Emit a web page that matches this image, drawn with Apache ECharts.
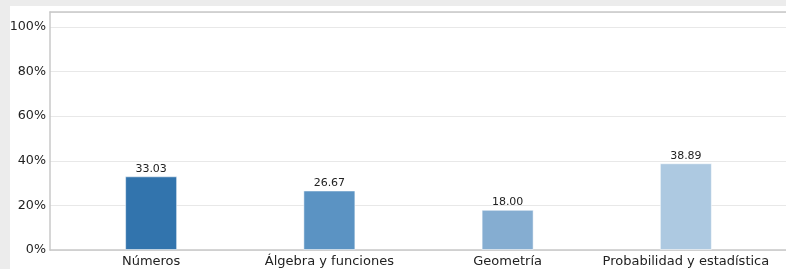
<!DOCTYPE html>
<html>
<head>
<meta charset="utf-8">
<style>
html,body{margin:0;padding:0;background:#ececec;overflow:hidden;}
#c{width:786px;height:269px;}
</style>
<script src="https://cdn.jsdelivr.net/npm/echarts@6/dist/echarts.min.js"></script>
</head>
<body>
<div id="c"></div>
<script>
const categories = ['Números', 'Álgebra y funciones', 'Geometría', 'Probabilidad y estadística'];
const values = [33.03, 26.67, 18.00, 38.89];
const barColors = ['#3274ad', '#5b93c3', '#85add1', '#adc9e1'];
const yTicks = [0, 20, 40, 60, 80, 100];

const chart = echarts.init(document.getElementById('c'), null, {renderer: 'canvas'});
const yMax = 106.7;
const font = 'DejaVu Sans';
chart.setOption({
  backgroundColor: 'transparent',
  animation: false,
  graphic: [{
    type: 'rect', z: -10, silent: true,
    shape: {x: 10, y: 6, width: 800, height: 300},
    style: {fill: '#ffffff'}
  }],
  grid: [
    {left: 50, top: 12, width: 745, bottom: 19, containLabel: false},
    {left: 62, top: 12, width: 713, bottom: 19, containLabel: false}
  ],
  xAxis: [
    {type: 'value', gridIndex: 0, min: 0, max: 1, position: 'bottom',
     axisLine: {show: true, lineStyle: {color: '#c8c8c8', width: 1.5}},
     axisTick: {show: false}, axisLabel: {show: false}, splitLine: {show: false}},
    {type: 'category', gridIndex: 1, data: categories, position: 'bottom',
     axisLine: {show: false}, axisTick: {show: false}, splitLine: {show: false},
     axisLabel: {color: '#222', fontFamily: font, fontSize: 13, margin: 5, interval: 0}},
    {type: 'value', gridIndex: 0, min: 0, max: 1, position: 'top',
     axisLine: {show: true, lineStyle: {color: '#c8c8c8', width: 1.5}},
     axisTick: {show: false}, axisLabel: {show: false}, splitLine: {show: false}}
  ],
  yAxis: [
    {type: 'value', gridIndex: 0, min: 0, max: yMax, interval: 20,
     axisLine: {show: true, lineStyle: {color: '#c8c8c8', width: 1.5}},
     axisTick: {show: false},
     axisLabel: {color: '#222', fontFamily: font, fontSize: 12.7, margin: 4,
       formatter: v => yTicks.includes(Math.round(v * 1000) / 1000) ? v + '%' : ''},
     splitLine: {show: true, lineStyle: {color: '#e8e8e8', width: 1}}},
    {type: 'value', gridIndex: 1, min: 0, max: yMax, show: false}
  ],
  series: [{
    type: 'bar', xAxisIndex: 1, yAxisIndex: 1,
    data: values.map((v, i) => ({value: v, itemStyle: {color: barColors[i]}})),
    barWidth: 52,
    itemStyle: {borderColor: 'rgba(255,255,255,0.5)', borderWidth: 1},
    label: {show: true, position: 'top', distance: 2, color: '#222', fontFamily: font, fontSize: 11,
      formatter: p => p.value.toFixed(2)}
  }]
});
</script>
</body>
</html>
